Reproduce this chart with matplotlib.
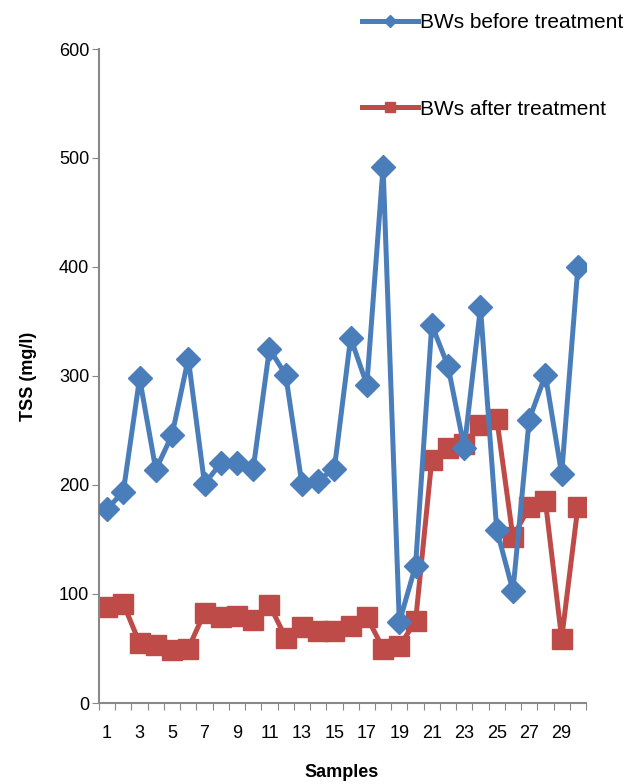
import matplotlib.pyplot as plt
import numpy as np

plt.rcParams['font.family'] = ['Liberation Sans', 'DejaVu Sans']

samples = list(range(1, 31))
before = [178, 194, 298, 214, 246, 316, 201, 220, 220, 215,
          325, 301, 201, 204, 215, 335, 292, 492, 74, 126,
          347, 309, 234, 363, 159, 103, 260, 301, 210, 400]
after = [88, 91, 55, 53, 49, 50, 83, 79, 80, 76,
         90, 60, 70, 66, 66, 71, 79, 50, 52, 75,
         223, 234, 238, 255, 261, 152, 180, 185, 59, 180]
y_ticks = [0, 100, 200, 300, 400, 500, 600]

blue = '#4A7EBB'
red = '#BE4B48'
grey = '#888888'

fig = plt.figure(figsize=(6.31, 7.84), dpi=100)
ax = fig.add_axes([99 / 631, 1 - 703 / 784, 487 / 631, 654 / 784])

ax.plot(samples, before, color=blue, lw=3.6, marker='D', ms=12,
        label='BWs before treatment', zorder=3)
ax.plot(samples, after, color=red, lw=3.6, marker='s', ms=14.5,
        label='BWs after treatment', zorder=2)

ax.set_xlim(0.5, 30.5)
ax.set_ylim(0, 600)
ax.set_yticks(y_ticks)

# category axis: ticks on boundaries, labels on odd samples
ax.set_xticks(np.arange(0.5, 31, 1))
ax.set_xticklabels([])
ax.set_xticks(samples[::2], minor=True)
ax.set_xticklabels([str(s) for s in samples[::2]], minor=True)
ax.tick_params(axis='x', which='major', length=5, color=grey, direction='out')
ax.tick_params(axis='x', which='minor', length=0, pad=16, labelsize=13)
ax.tick_params(axis='y', length=5, color=grey, direction='out', labelsize=13, pad=2)

for side in ['top', 'right']:
    ax.spines[side].set_visible(False)
for side in ['left', 'bottom']:
    ax.spines[side].set_color(grey)
    ax.spines[side].set_linewidth(1.5)

ax.set_ylabel('TSS (mg/l)', fontsize=13, fontweight='bold', labelpad=16)
ax.set_xlabel('Samples', fontsize=13, fontweight='bold')
ax.xaxis.set_label_coords(0.499, -0.094)

leg = fig.legend(loc='upper left', bbox_to_anchor=(362 / 631, 1 - 13 / 784),
                 frameon=False, fontsize=15, labelspacing=3.25, borderpad=0,
                 borderaxespad=0, handlelength=2.7, handletextpad=0.1,
                 markerscale=0.5)

fig.savefig('out.png', dpi=100)
